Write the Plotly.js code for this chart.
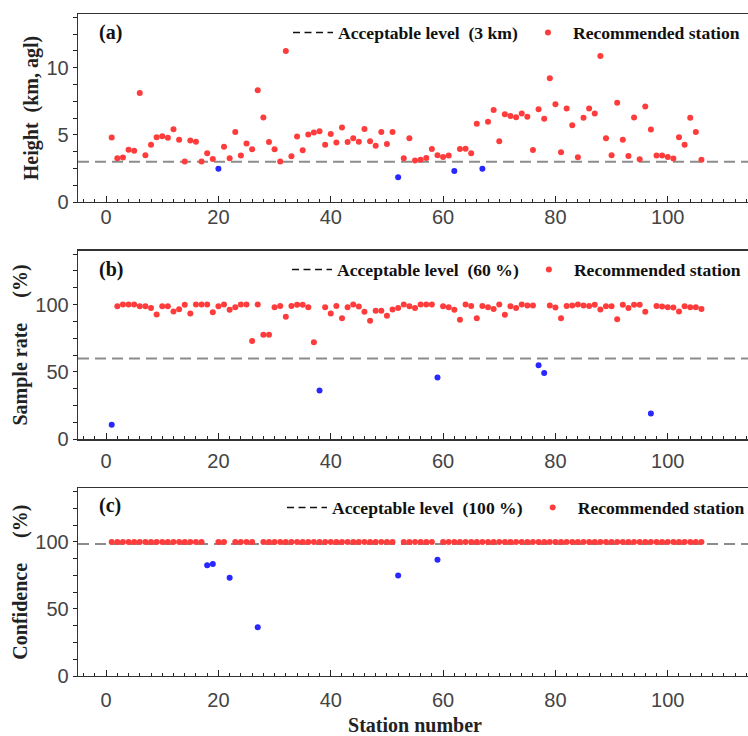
<!DOCTYPE html>
<html><head><meta charset="utf-8">
<script src="https://cdn.plot.ly/plotly-3.0.1.min.js"></script>
<style>html,body{margin:0;padding:0;overflow:hidden;background:#fff;} #chart{width:754px;height:736px;}</style>
</head><body><div id="chart"></div>
<script>
const stations = [1,2,3,4,5,6,7,8,9,10,11,12,13,14,15,16,17,18,19,20,21,22,23,24,25,26,27,28,29,30,
31,32,33,34,35,36,37,38,39,40,41,42,43,44,45,46,47,48,49,50,51,52,53,54,55,56,57,58,59,60,
61,62,63,64,65,66,67,68,69,70,71,72,73,74,75,76,77,78,79,80,81,82,83,84,85,86,87,88,89,90,
91,92,93,94,95,96,97,98,99,100,101,102,103,104,105,106];

const heightKm = [4.80,3.26,3.31,3.90,3.82,8.11,3.48,4.26,4.83,4.90,
4.78,5.42,4.63,3.02,4.58,4.49,3.02,3.63,3.21,2.47,
4.12,3.26,5.22,3.46,4.36,3.92,8.33,6.30,4.46,3.92,
3.02,11.25,3.41,4.88,3.85,5.02,5.17,5.27,4.26,5.07,
4.44,5.54,4.46,4.75,4.49,5.44,4.53,4.19,5.22,4.31,
5.22,1.84,3.26,4.75,3.09,3.14,3.28,3.95,3.48,3.36,
3.46,2.30,3.95,3.97,3.63,5.83,2.47,5.98,6.86,4.53,
6.54,6.40,6.32,6.59,6.35,3.87,6.91,6.20,9.22,7.28,
3.70,6.96,5.71,3.33,6.27,6.96,6.59,10.88,4.75,3.48,
7.40,4.63,3.43,6.30,3.19,7.11,5.39,3.46,3.46,3.36,
3.24,4.83,4.26,6.27,5.22,3.14];

const sampleRate = [10.8,98.8,100,100,100,98.8,98.8,97.5,92.6,98.8,
98.8,94.9,96.6,99.8,93.4,100,100,100,94.4,98.8,
100,96.1,98.0,100,100,73.0,100,77.7,77.7,98.0,
99.0,90.9,99.0,99.8,99.8,98.0,72.0,36.2,98.0,93.4,
99.0,89.9,98.0,100,98.5,94.6,88.0,95.4,95.4,91.7,
96.3,97.5,100,98.8,97.5,100,100,100,45.8,98.8,
98.0,96.1,88.7,100,99.0,89.9,99.0,98.0,96.8,100,
92.4,98.8,97.5,100,99.3,99.3,54.9,49.3,99.3,97.8,
89.9,99.0,99.3,100,99.3,99.0,99.8,96.3,98.8,98.8,
89.2,99.8,97.5,99.8,99.8,94.6,19.1,99.0,98.5,98.0,
97.8,94.9,98.8,98.0,98.0,96.8];

const confidence = [100,100,100,100,100,100,100,100,100,100,
100,100,100,100,100,100,100,82.6,83.6,100,
100,73.3,100,100,100,100,36.3,100,100,100,
100,100,100,100,100,100,100,100,100,100,
100,100,100,100,100,100,100,100,100,100,
100,75.0,100,100,100,100,100,100,86.8,100,
100,100,100,100,100,100,100,100,100,100,
100,100,100,100,100,100,100,100,100,100,
100,100,100,100,100,100,100,100,100,100,
100,100,100,100,100,100,100,100,100,100,
100,100,100,100,100,100];

const acceptableLevels = [3, 60, 98.5];
const legendLevelNames = ['Acceptable level\u00a0\u00a0(3 km)', 'Acceptable level\u00a0\u00a0(60 %)', 'Acceptable level\u00a0\u00a0(100 %)'];
const recommendedName = 'Recommended station';
const panelLabels = ['(a)', '(b)', '(c)'];
const yTitles = ['Height\u00a0\u00a0(km, agl)', 'Sample rate\u00a0\u00a0\u00a0\u00a0\u00a0(%)', 'Confidence\u00a0\u00a0\u00a0\u00a0\u00a0(%)'];
const yRanges = [[0, 14], [0, 140], [0, 140]];
const yMajor = [5, 50, 50];
const xRange = [-5, 115];

const seriesList = [heightKm, sampleRate, confidence];
const RED = 'rgb(255,60,60)';
const BLUE = 'rgb(40,40,255)';
const serif = 'Liberation Serif, Times New Roman, serif';
const sans = 'Liberation Sans, Arial, sans-serif';

const traces = [];
seriesList.forEach((vals, i) => {
  const sfx = i === 0 ? '' : String(i + 1);
  const xa = 'x' + sfx, ya = 'y' + sfx;
  const lg = 'legend' + sfx;
  const lvl = acceptableLevels[i];
  const okX = [], okY = [], badX = [], badY = [];
  vals.forEach((v, k) => {
    if (v >= lvl) { okX.push(stations[k]); okY.push(v); }
    else { badX.push(stations[k]); badY.push(v); }
  });
  traces.push({x: xRange, y: [lvl, lvl], xaxis: xa, yaxis: ya, mode: 'lines',
    line: {color: '#8c8c8c', width: 2, dash: '11px,6px'}, showlegend: false, hoverinfo: 'skip'});
  traces.push({x: [null], y: [null], xaxis: xa, yaxis: ya, mode: 'lines', name: legendLevelNames[i],
    line: {color: '#111', width: 1.5, dash: '7px,4.5px'}, legend: lg, showlegend: true});
  traces.push({x: badX, y: badY, xaxis: xa, yaxis: ya, mode: 'markers',
    marker: {color: BLUE, size: 6}, showlegend: false});
  traces.push({x: okX, y: okY, xaxis: xa, yaxis: ya, mode: 'markers', name: recommendedName,
    marker: {color: RED, size: 6}, legend: lg, showlegend: true});
});

const H = 662;
const domains = [[(676-202)/H, 1], [(676-439.3)/H, (676-250.7)/H], [0, (676-488.3)/H]];
const labelStandoff = [-3, 3, 6];

const layout = {
  width: 754, height: 736,
  margin: {l: 78, r: 2, t: 14, b: 60},
  paper_bgcolor: '#fff', plot_bgcolor: '#fff',
  showlegend: true,
  annotations: [],
  font: {family: sans, color: '#444'}
};

const legendY = [32.5, 269.5, 507.5];
const legendX = [288, 287, 282];
const labelY = [32.5, 269, 505.5];
for (let i = 0; i < 3; i++) {
  const sfx = i === 0 ? '' : String(i + 1);
  const ax = {
    range: xRange, dtick: 20, tick0: 0, ticks: 'inside', ticklen: 6, tickwidth: 1, tickcolor: '#222',
    minor: {dtick: 2, ticks: 'inside', ticklen: 3, tickcolor: '#222', tickwidth: 1},
    showline: true, mirror: true, linecolor: '#333', linewidth: 1.3,
    showgrid: false, zeroline: false,
    tickfont: {family: sans, size: 20, color: '#444'},
    anchor: 'y' + sfx, ticklabelstandoff: labelStandoff[i]
  };
  if (i === 2) {
    ax.title = {text: 'Station number', font: {family: serif, size: 20, color: '#222', weight: 'bold'}, standoff: 15};
  }
  layout['xaxis' + sfx] = ax;
  layout['yaxis' + sfx] = {
    range: yRanges[i], dtick: yMajor[i], tick0: 0, ticks: 'outside', ticklen: 4, tickwidth: 1, tickcolor: '#222',
    minor: {dtick: yMajor[i] / 4, ticks: 'outside', ticklen: 4, tickcolor: '#222', tickwidth: 1},
    showline: true, mirror: true, linecolor: '#333', linewidth: 1.3,
    showgrid: false, zeroline: false, domain: domains[i],
    tickfont: {family: sans, size: 20, color: '#444'},
    anchor: 'x' + sfx,
    title: {text: yTitles[i], font: {family: serif, size: 20, color: '#222', weight: 'bold'}, standoff: 2}
  };
  layout['legend' + sfx] = {
    orientation: 'h', x: (legendX[i] - 78) / 674, xanchor: 'left',
    y: (676 - legendY[i]) / H, yanchor: 'middle',
    bgcolor: 'rgba(0,0,0,0)', borderwidth: 0,
    font: {family: serif, size: 17.6, color: '#111', weight: 'bold'},
    itemwidth: 40, traceorder: 'normal'
  };
  layout.annotations.push({
    text: panelLabels[i], xref: 'paper', yref: 'paper', x: (97 - 78) / 674, y: (676 - labelY[i]) / H,
    xanchor: 'left', yanchor: 'middle', showarrow: false,
    font: {family: serif, size: 20, color: '#111', weight: 'bold'}
  });
}

Plotly.newPlot('chart', traces, layout, {displayModeBar: false, staticPlot: true});
</script>
</body></html>
